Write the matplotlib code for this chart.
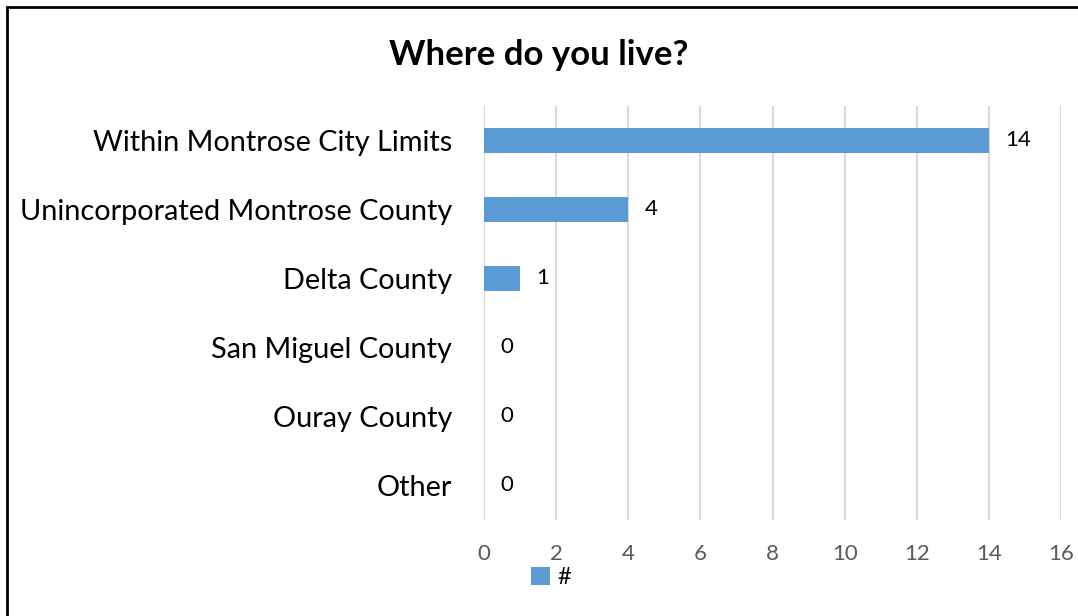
import matplotlib.pyplot as plt
from matplotlib.patches import Rectangle

categories = ["Within Montrose City Limits", "Unincorporated Montrose County",
              "Delta County", "San Miguel County", "Ouray County", "Other"]
counts = [14, 4, 1, 0, 0, 0]
xticks = [0, 2, 4, 6, 8, 10, 12, 14, 16]

plt.rcParams["font.family"] = ["Lato", "DejaVu Sans"]

fig = plt.figure(figsize=(10.78, 6.16), dpi=100)
ax = fig.add_axes([0.449, 0.156, 0.5353, 0.672])

ypos = list(range(len(categories)))
bars = ax.barh(ypos, counts, height=0.35, color="#5B9BD5", label="#", zorder=3)
ax.set_ylim(len(categories) - 0.5, -0.5)
ax.set_xlim(0, 16)
ax.set_xticks(xticks)
ax.set_yticks(ypos)
ax.set_yticklabels(categories, fontsize=20.8, color="black")
ax.tick_params(axis="y", length=0, pad=23)
ax.tick_params(axis="x", length=0, pad=17, labelsize=16, labelcolor="#595959")
ax.grid(axis="x", color="#D9D9D9", linewidth=1.5, zorder=0)
for s in ax.spines.values():
    s.set_visible(False)

for y, v in zip(ypos, counts):
    ax.text(v + 0.45, y, str(v), va="center", ha="left", fontsize=16, color="black")

fig.text(0.5, 0.911, "Where do you live?", ha="center", va="center",
         fontsize=25, fontweight="bold")

fig.legend(loc="center", bbox_to_anchor=(0.511, 0.063), frameon=False,
           fontsize=17, handlelength=0.8, handleheight=0.8, handletextpad=0.3)

# outer chart border
fig.patches.append(Rectangle((7 / 1078, -0.05), 1.2, 1 - 7 / 616 + 0.05,
                             transform=fig.transFigure, fill=False,
                             edgecolor="black", linewidth=2))

fig.savefig("out.png", dpi=100)
